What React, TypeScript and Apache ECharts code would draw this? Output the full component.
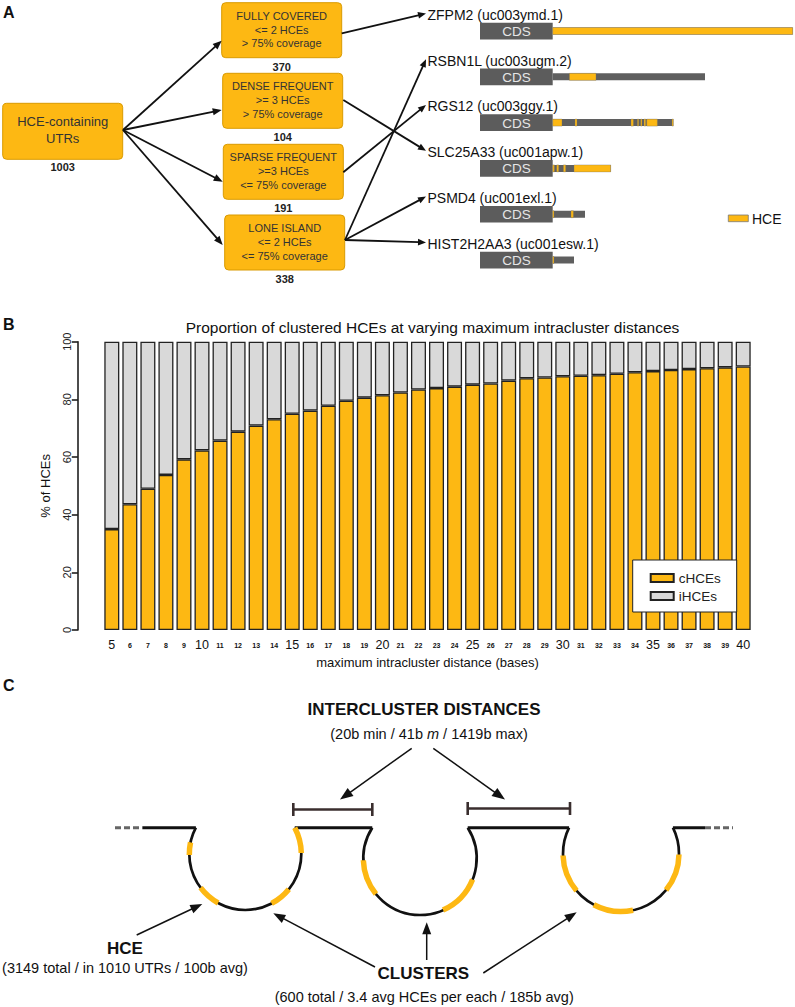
import React, { useEffect, useRef } from "react";
import * as echarts from "echarts";

// ---------- Panel B data ----------
const distances = [5, 6, 7, 8, 9, 10, 11, 12, 13, 14, 15, 16, 17, 18, 19, 20, 21, 22, 23, 24, 25, 26, 27, 28, 29, 30, 31, 32, 33, 34, 35, 36, 37, 38, 39, 40];
const cHCEs = [35.0, 43.6, 49.0, 53.8, 59.2, 62.3, 65.7, 68.8, 70.9, 73.1, 75.0, 76.1, 77.8, 79.5, 80.6, 81.4, 82.4, 83.4, 83.9, 84.4, 85.1, 85.5, 86.5, 87.3, 87.6, 88.0, 88.2, 88.4, 88.9, 89.4, 89.8, 90.2, 90.5, 90.8, 91.1, 91.4];
const yTickMax = 100;
const yTickStep = 20;
const panelBTitle = "Proportion of clustered HCEs at varying maximum intracluster distances";
const xTitle = "maximum intracluster distance (bases)";
const yTitle = "% of HCEs";

// ---------- Panel A data ----------
const rootLabel = ["HCE-containing", "UTRs"];
const totalUTRs = 1003;
const classNames = ["FULLY COVERED", "DENSE FREQUENT", "SPARSE FREQUENT", "LONE ISLAND"];
const classRules = [
  ["<= 2 HCEs", "> 75% coverage"],
  [">= 3 HCEs", "> 75% coverage"],
  [">=3 HCEs", "<= 75% coverage"],
  ["<= 2 HCEs", "<= 75% coverage"],
];
const classCounts = [370, 104, 191, 338];
const genes = ["ZFPM2 (uc003ymd.1)", "RSBN1L (uc003ugm.2)", "RGS12 (uc003ggy.1)", "SLC25A33 (uc001apw.1)", "PSMD4 (uc001exl.1)", "HIST2H2AA3 (uc001esw.1)"];
const geneClass = [0, 3, 2, 1, 3, 3];
const utrLengths = [240, 152.3, 120.6, 58, 32.3, 21.3];
const hceSegments = [
  [[0, 240]],
  [[16.7, 43.3]],
  [[0, 9.3], [22.3, 24.3], [78.3, 80.7], [84.7, 86], [88, 89.3], [91.3, 93], [94, 104.7], [119.3, 120.6]],
  [[0, 1.7], [4, 6], [10.7, 13], [21.3, 58]],
  [[0, 1.3], [18.3, 20.7]],
  [[0, 1.3]],
];

// ---------- Panel C data ----------
const interTitle = "INTERCLUSTER DISTANCES";
const interSub = "(20b min / 41b {it|m} / 1419b max)";
const hceTitle = "HCE";
const hceSub = "(3149 total / in 1010 UTRs / 100b avg)";
const clusterTitle = "CLUSTERS";
const clusterSub = "(600 total / 3.4 avg HCEs per each / 185b avg)";
// HCE arcs on each cluster loop, in degrees along the loop
const loopHCEs = [
  [[179, 192], [119, 143], [39, 62], [-28, -1]],
  [[141, 178], [22, 66]],
  [[140, 178], [78, 118], [1, 39]],
];

const ORANGE = "#FDB813";
const GRAY = "#D9D9D9";
const FONT = "'Liberation Sans', Arial, Helvetica, sans-serif";

function arrow(x1: number, y1: number, x2: number, y2: number, lw: number, head: number, hw: number, color = "#111") {
  const dx = x2 - x1, dy = y2 - y1;
  const L = Math.hypot(dx, dy);
  const ux = dx / L, uy = dy / L;
  const bx = x2 - ux * head, by = y2 - uy * head;
  const px = -uy, py = ux;
  return [
    { type: "line", shape: { x1, y1, x2: bx + ux, y2: by + uy }, style: { stroke: color, lineWidth: lw } },
    {
      type: "polygon",
      shape: { points: [[x2, y2], [bx + px * hw, by + py * hw], [bx - px * hw, by - py * hw]] },
      style: { fill: color },
    },
  ];
}

function txt(x: number, y: number, text: string, size: number, opts: any = {}) {
  return {
    type: "text",
    x,
    y,
    style: {
      text,
      fontSize: size,
      fontFamily: FONT,
      fontWeight: opts.bold ? "bold" : "normal",
      fill: opts.color || "#111",
      align: opts.align || "center",
      verticalAlign: "middle",
      rich: opts.rich,
    },
  };
}

function buildGraphics() {
  const g: any[] = [];
  // panel letters
  g.push(txt(3, 12, "A", 16, { bold: true, align: "left" }));
  g.push(txt(3, 324, "B", 16, { bold: true, align: "left" }));
  g.push(txt(3, 685, "C", 16, { bold: true, align: "left" }));

  // ----- Panel A -----
  const boxStyle = { fill: ORANGE, stroke: "#D99A00", lineWidth: 1 };
  g.push({ type: "rect", shape: { x: 2.7, y: 103.3, width: 120, height: 56, r: 4 }, style: boxStyle });
  g.push(txt(62.7, 121.7, rootLabel[0], 13, { color: "#333" }));
  g.push(txt(62.7, 138.3, rootLabel[1], 13, { color: "#333" }));
  g.push(txt(62.7, 166.7, String(totalUTRs), 11, { bold: true, color: "#222" }));

  const boxX = [221.7, 222.7, 223.3, 224.7];
  const boxTop = [2.7, 73.3, 144.3, 215];
  const rootEnds = [[221.7, 40.7], [221.7, 110], [222.7, 181.7], [222.7, 245]];
  const boxOut = [[341.7, 33.3], [343.3, 100], [343.3, 172.3], [345, 240]];
  classNames.forEach((name, i) => {
    const x = boxX[i], t = boxTop[i];
    g.push({ type: "rect", shape: { x, y: t, width: 120, height: 55, r: 4 }, style: boxStyle });
    g.push(txt(x + 60, t + 13, name, 11, { color: "#333" }));
    g.push(txt(x + 60, t + 26.8, classRules[i][0], 11, { color: "#333" }));
    g.push(txt(x + 60, t + 40.6, classRules[i][1], 11, { color: "#333" }));
    g.push(txt(x + 60, t + 64, String(classCounts[i]), 11, { bold: true, color: "#222" }));
    g.push(...arrow(123, 130, rootEnds[i][0], rootEnds[i][1], 1.8, 9, 3.6));
  });

  genes.forEach((name, i) => {
    const yc = 31 + i * 45.8;
    const ly = yc - 16.3;
    g.push(txt(427.5, ly, name, 14, { align: "left", color: "#111" }));
    const c = geneClass[i];
    g.push(...arrow(boxOut[c][0], boxOut[c][1], 426, ly - 1.3, 1.8, 8, 3.3));
    g.push({ type: "rect", shape: { x: 480, y: yc - 8.3, width: 72.7, height: 16.7 }, style: { fill: "#5C5C5C" } });
    g.push(txt(516.4, yc + 0.5, "CDS", 13.5, { color: "#E6E6E6" }));
  });
  // HCE legend of panel A
  g.push({ type: "rect", shape: { x: 728.3, y: 215, width: 20, height: 6.7 }, style: { fill: ORANGE, stroke: "#777", lineWidth: 0.8 } });
  g.push(txt(752, 218.5, "HCE", 14, { align: "left", color: "#111" }));

  // ----- Panel C -----
  const loops = [
    { cx: 245.3, cy: 854, r: 56 },
    { cx: 420, cy: 858.3, r: 56.7 },
    { cx: 621, cy: 853.5, r: 58 },
  ];
  const topY = 827.7;
  const tops = loops.map((u) => {
    const a = Math.asin((topY - u.cy) / u.r);
    return { a, xL: u.cx - u.r * Math.cos(a), xR: u.cx + u.r * Math.cos(a) };
  });
  const hl = (x1: number, x2: number) => ({ type: "line", shape: { x1, y1: topY, x2, y2: topY }, style: { stroke: "#111", lineWidth: 3 } });
  g.push({ type: "line", shape: { x1: 115, y1: topY, x2: 143, y2: topY }, style: { stroke: "#666", lineWidth: 3, lineDash: [6, 3] } });
  g.push(hl(143, tops[0].xL));
  g.push(hl(tops[0].xR, tops[1].xL));
  g.push(hl(tops[1].xR, tops[2].xL));
  g.push(hl(tops[2].xR, 705));
  g.push({ type: "line", shape: { x1: 705, y1: topY, x2: 733, y2: topY }, style: { stroke: "#666", lineWidth: 3, lineDash: [6, 3] } });
  loops.forEach((u, i) => {
    const a = tops[i].a;
    g.push({
      type: "arc",
      shape: { cx: u.cx, cy: u.cy, r: u.r, startAngle: a, endAngle: Math.PI - a, clockwise: true },
      style: { stroke: "#111", lineWidth: 2.7, fill: null },
    });
  });
  loops.forEach((u, i) => {
    loopHCEs[i].forEach(([s, e]) => {
      g.push({
        type: "arc",
        shape: { cx: u.cx, cy: u.cy, r: u.r, startAngle: (s * Math.PI) / 180, endAngle: (e * Math.PI) / 180, clockwise: true },
        style: { stroke: ORANGE, lineWidth: 5.5, fill: null },
      });
    });
  });
  // brackets
  const bracket = (x1: number, x2: number, y: number) => [
    { type: "line", shape: { x1, y1: y, x2, y2: y }, style: { stroke: "#3A2E2E", lineWidth: 2.6 } },
    { type: "line", shape: { x1, y1: y - 6.5, x2: x1, y2: y + 6.5 }, style: { stroke: "#3A2E2E", lineWidth: 2.6 } },
    { type: "line", shape: { x1: x2, y1: y - 6.5, x2, y2: y + 6.5 }, style: { stroke: "#3A2E2E", lineWidth: 2.6 } },
  ];
  g.push(...bracket(293.3, 372.3, 809.5));
  g.push(...bracket(467.7, 570, 808.5));

  g.push(txt(424, 709.3, interTitle, 17, { bold: true, color: "#111" }));
  g.push(
    txt(429, 734.3, interSub, 14.5, {
      color: "#111",
      rich: { it: { fontStyle: "italic", fontSize: 14.5, fontFamily: FONT, fill: "#111" } },
    })
  );
  g.push(...arrow(411.7, 748.3, 340, 799.5, 1.5, 13, 5));
  g.push(...arrow(433.3, 748.3, 505, 799.5, 1.5, 13, 5));

  g.push(txt(125, 948.3, hceTitle, 17, { bold: true }));
  g.push(txt(125, 968.3, hceSub, 14.5));
  g.push(...arrow(136.7, 935, 202.3, 904, 1.5, 12, 4.5));

  g.push(txt(423.3, 973.3, clusterTitle, 17, { bold: true }));
  g.push(txt(424.2, 996.5, clusterSub, 14.5));
  g.push(...arrow(375, 967, 273.3, 913.3, 1.5, 12, 4.5));
  g.push(...arrow(426.7, 960, 426.7, 922.3, 1.5, 12, 4.5));
  g.push(...arrow(483.3, 973, 576.7, 912.3, 1.5, 12, 4.5));
  return g;
}

export default function App() {
  const ref = useRef<HTMLDivElement>(null);
  useEffect(() => {
    const chart = echarts.init(ref.current!, null, { renderer: "svg" });
    const iHCEs = cHCEs.map((v) => +(100 - v).toFixed(1));
    const trackData: number[][] = [];
    utrLengths.forEach((len, i) => trackData.push([i, 0, len, 0]));
    hceSegments.forEach((segs, i) => segs.forEach(([s, e]) => trackData.push([i, s, e, 1])));

    const option: any = {
      animation: false,
      backgroundColor: "#ffffff",
      textStyle: { fontFamily: FONT },
      title: {
        text: panelBTitle,
        left: 427.5,
        textAlign: "center",
        top: 314,
        textStyle: { fontSize: 15.5, fontWeight: "normal", color: "#111", fontFamily: FONT },
      },
      legend: {
        data: ["cHCEs", "iHCEs"],
        orient: "vertical",
        left: 632.7,
        top: 560,
        backgroundColor: "#fff",
        borderColor: "#222",
        borderWidth: 1,
        borderRadius: 0,
        padding: [11, 16, 9, 17],
        itemWidth: 23,
        itemHeight: 8,
        itemGap: 4,
        icon: "rect",
        textStyle: { fontSize: 13.5, color: "#222", fontFamily: FONT },
      },
      grid: [
        { left: 102.8, right: 42.8, top: 341.7, bottom: 377 },
        { left: 552.7, width: 240, top: 8.1, height: 274.8 },
      ],
      xAxis: [
        {
          type: "category",
          gridIndex: 0,
          data: distances.map(String),
          axisLine: { show: false },
          axisTick: { show: false },
          axisLabel: {
            interval: 0,
            margin: 15,
            verticalAlign: "middle",
            formatter: (v: string) => (Number(v) % 5 === 0 ? `{big|${v}}` : `{small|${v}}`),
            rich: {
              big: { fontSize: 12.5, color: "#111", fontFamily: FONT },
              small: { fontSize: 7, fontWeight: "bold", color: "#111", fontFamily: FONT },
            },
          },
          name: xTitle,
          nameLocation: "middle",
          nameGap: 26,
          nameTextStyle: { fontSize: 13, color: "#111", fontFamily: FONT },
        },
        { type: "value", gridIndex: 1, min: 0, max: 240, show: false },
      ],
      yAxis: [
        {
          type: "value",
          gridIndex: 0,
          min: 0,
          max: yTickMax,
          interval: yTickStep,
          offset: 25,
          axisLine: { show: true, lineStyle: { color: "#111", width: 1.5 } },
          axisTick: { show: true, length: 6, lineStyle: { color: "#111", width: 1.5 } },
          axisLabel: { rotate: 90, margin: 5, fontSize: 11, color: "#222", fontFamily: FONT },
          splitLine: { show: false },
          name: yTitle,
          nameLocation: "middle",
          nameRotate: 90,
          nameGap: 26,
          nameTextStyle: { fontSize: 13, color: "#111", fontFamily: FONT },
        },
        { type: "category", gridIndex: 1, data: genes, inverse: true, show: false },
      ],
      series: [
        {
          name: "cHCEs",
          type: "bar",
          stack: "pct",
          xAxisIndex: 0,
          yAxisIndex: 0,
          barWidth: 15,
          data: cHCEs,
          itemStyle: { color: ORANGE, borderColor: "#222", borderWidth: 1.3 },
        },
        {
          name: "iHCEs",
          type: "bar",
          stack: "pct",
          xAxisIndex: 0,
          yAxisIndex: 0,
          barWidth: 15,
          data: iHCEs,
          itemStyle: { color: GRAY, borderColor: "#222", borderWidth: 1.3 },
        },
        {
          type: "custom",
          xAxisIndex: 1,
          yAxisIndex: 1,
          clip: false,
          silent: true,
          encode: { x: [1, 2], y: 0 },
          data: trackData,
          renderItem: (params: any, api: any) => {
            const gi = api.value(0);
            const p0 = api.coord([api.value(1), gi]);
            const p1 = api.coord([api.value(2), gi]);
            const kind = api.value(3);
            const h = 7;
            return {
              type: "rect",
              shape: { x: p0[0], y: p0[1] - h / 2, width: Math.max(p1[0] - p0[0], 1), height: h },
              style: kind ? { fill: ORANGE, stroke: "rgba(110,110,110,0.55)", lineWidth: 0.6 } : { fill: "#5F5F5F" },
            };
          },
        },
      ],
      graphic: { elements: buildGraphics() },
    };
    chart.setOption(option);
    return () => chart.dispose();
  }, []);
  return <div ref={ref} style={{ position: "absolute", left: 0, top: 0, width: 795, height: 1007, background: "#fff" }} />;
}
